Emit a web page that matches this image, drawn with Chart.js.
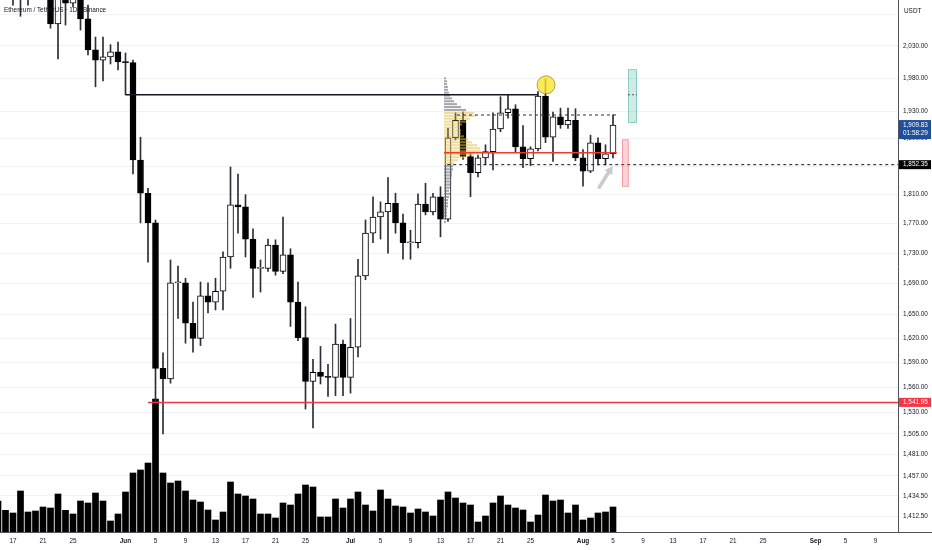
<!DOCTYPE html>
<html>
<head>
<meta charset="utf-8">
<script src="https://cdn.jsdelivr.net/npm/chart.js@4.4.1/dist/chart.umd.min.js"></script>
<style>
  html, body { margin: 0; padding: 0; background: #fff; }
  #wrap { position: relative; width: 932px; height: 550px; }
  .leyenda { position: absolute; left: 4px; top: 6px; font: 6.4px 'Liberation Sans', Arial, sans-serif; color: #131722; white-space: nowrap; }
  .unidad { position: absolute; left: 904px; top: 7px; font: 6.4px 'Liberation Sans', Arial, sans-serif; color: #131722; }
</style>
</head>
<body>
<div id="wrap">
  <canvas id="chartCanvas"></canvas>
  <div class="leyenda">Ethereum / TetherUS · 1D · Binance</div>
  <div class="unidad">USDT</div>
</div>
<script>
// Primer día visible (índice 0 del eje x)
const primerDia = '2023-05-15';

// Velas diarias (15 may - 5 ago)
const aperturas = [2140,2125,2118,2130,2110,2120,2140,2118,2065,2112,
  2098,2112,2073,2024,2008,2013,2021,2005,2004,1859,
  1812,1771,1583,1570,1691,1691,1639,1620,1674,1666,
  1680,1725,1796,1793,1749,1710,1710,1741,1706,1728,
  1666,1621,1567,1578,1573,1572,1613,1572,1609,1700,
  1757,1779,1786,1798,1771,1744,1744,1797,1786,1807,
  1776,1891,1917,1864,1841,1862,1871,1904,1928,1934,
  1878,1861,1875,1953,1892,1922,1910,1917,1862,1843,
  1884,1861,1868];
const maximos = [2160,2145,2140,2150,2135,2150,2160,2130,2130,2125,
  2125,2128,2095,2044,2044,2032,2036,2019,2008,1892,
  1819,1775,1602,1721,1713,1697,1666,1692,1691,1697,
  1732,1849,1839,1810,1763,1721,1749,1748,1779,1736,
  1692,1660,1594,1610,1588,1638,1618,1645,1722,1775,
  1807,1800,1834,1812,1783,1761,1811,1826,1812,1821,
  1905,1928,1929,1868,1866,1881,1928,1952,1955,1940,
  1909,1878,1960,1979,1929,1935,1935,1934,1874,1895,
  1891,1881,1925];
const minimos = [2110,2105,2095,2077,2095,2110,2108,2058,2010,2063,
  2092,2055,2016,1967,1976,2002,1993,1955,1839,1771,
  1718,1542,1505,1565,1645,1614,1603,1611,1652,1656,
  1656,1710,1757,1725,1672,1679,1706,1701,1703,1635,
  1617,1534,1512,1564,1549,1550,1550,1553,1597,1695,
  1744,1749,1730,1757,1722,1722,1737,1782,1782,1752,
  1773,1888,1860,1807,1835,1852,1845,1900,1920,1871,
  1848,1851,1872,1884,1857,1905,1905,1858,1822,1841,
  1852,1852,1862];
const cierres = [2125,2118,2130,2110,2120,2140,2118,2065,2112,2098,
  2112,2073,2024,2008,2013,2021,2005,2004,1859,1812,
  1771,1583,1570,1691,1692,1639,1620,1674,1666,1680,
  1725,1796,1793,1749,1710,1711,1741,1706,1728,1666,
  1621,1567,1578,1573,1572,1613,1572,1609,1700,1757,
  1779,1786,1798,1771,1744,1745,1797,1786,1807,1776,
  1891,1917,1864,1841,1862,1871,1904,1928,1934,1878,
  1861,1875,1953,1892,1922,1910,1917,1862,1843,1884,
  1861,1868,1909.83];
// Volumen diario (miles de ETH)
const volumenes = [186,130,114,246,120,126,150,144,228,130,
  108,186,174,234,186,66,108,240,354,372,
  414,798,354,294,306,246,192,180,132,72,
  120,300,228,216,198,108,108,84,174,162,
  228,282,270,90,90,198,144,198,240,162,
  126,252,198,156,150,114,138,120,96,192,
  240,204,174,162,60,96,174,216,162,144,
  132,60,102,222,186,192,114,162,72,84,
  114,120,150];

// Etiquetas de los ejes
const xTickFechas = ['05-17','05-21','05-25','06-01','06-05','06-09','06-13','06-17','06-21','06-25',
  '07-01','07-05','07-09','07-13','07-17','07-21','07-25','08-01','08-05','08-09','08-13','08-17',
  '08-21','08-25','09-01','09-05','09-09'];
const xTickEtiquetas = ['17','21','25','Jun','5','9','13','17','21','25',
  'Jul','5','9','13','17','21','25','Aug','5','9','13','17',
  '21','25','Sep','5','9'];
const meses = ['Jun','Jul','Aug','Sep'];
const yTicks = [2080, 2030, 1980, 1930, 1890, 1850, 1810, 1770, 1730, 1690, 1650, 1620,
  1590, 1560, 1530, 1505, 1481, 1457, 1434.5, 1412.5];

// Niveles dibujados
const nivelNegro = 1955;
const nivelRojo = 1541.95;
const nivelPOC = 1869.5;
const nivelVAH = 1924.7;
const nivelVAL = 1852.35;
const ultimoPrecio = 1909.83;
const cuentaAtras = '01:58:29';
const maximoMarcado = 1970;

// Perfil de volumen (de arriba a abajo)
const perfilAlto = 1982;
const perfilBajo = 1770;
const perfilVolumen = [2,3,3,4,4,5,6,8,10,13, 17,22,30,32,26,22,18,16,17,17,
  20,24,28,33,36,37,30,21,14,10, 9,9,8,8,7,7,6,6,5,6, 5,4,4,4,3,3,3,2,2];
const areaValorAlto = 1928;
const areaValorBajo = 1852.35;

// Zonas de la posición (objetivo y stop)
const zonaObjetivo = { alto: 1994, bajo: 1913 };
const zonaStop = { alto: 1889, bajo: 1821 };
const flechaPrecios = [1820.4, 1850.6];

const fuente = "'Liberation Sans', Arial, sans-serif";

function diaIndex(mmdd) {
  const base = new Date(primerDia + 'T00:00:00Z');
  const [m, d] = mmdd.split('-').map(Number);
  return Math.round((Date.UTC(base.getUTCFullYear(), m - 1, d) - base.getTime()) / 86400000);
}

function fmt(v) {
  return v.toLocaleString('en-US', { minimumFractionDigits: 2, maximumFractionDigits: 2 });
}

function linea(precio, desde, hasta, color, ancho, dash) {
  return {
    type: 'line',
    data: [{ x: desde, y: precio }, { x: hasta, y: precio }],
    borderColor: color,
    borderWidth: ancho,
    borderDash: dash || [],
    pointRadius: 0,
    yAxisID: 'y',
    order: 2
  };
}

// Posiciones (en días) de los dibujos
const iPerfil = 59.47;
const anchoPerfilDias = 4.93;
const finDibujos = 82.5;
const iObjetivo = [84, 85.2];
const iStop = [83.2, 84.1];
const iFlecha = [80.17, 81.96];

// Plugin: perfil de volumen, zonas, flecha y etiquetas de precio
const dibujos = {
  id: 'dibujos',
  afterDatasetDraw(chart, args) {
    if (args.index !== 2) return;
    const { ctx, scales: { x, y } } = chart;
    const x0 = x.getPixelForValue(iPerfil);
    const pxDia = x.getPixelForValue(1) - x.getPixelForValue(0);
    const maxV = Math.max(...perfilVolumen);
    const paso = (perfilAlto - perfilBajo) / perfilVolumen.length;
    ctx.save();
    perfilVolumen.forEach((v, k) => {
      const hi = perfilAlto - k * paso;
      const lo = hi - paso;
      const medio = (hi + lo) / 2;
      const yHi = y.getPixelForValue(hi);
      const yLo = y.getPixelForValue(lo);
      const h = yLo - yHi;
      const w = v / maxV * anchoPerfilDias * pxDia;
      const enArea = medio <= areaValorAlto && medio >= areaValorBajo;
      ctx.fillStyle = enArea ? 'rgba(226,190,70,0.55)' : 'rgba(105,108,116,0.6)';
      ctx.fillRect(x0, yHi + h * 0.15, w, h * 0.7);
    });
    ctx.restore();
  },
  afterDatasetsDraw(chart) {
    const { ctx, scales: { x, y } } = chart;
    ctx.save();
    const caja = (i, z, relleno, borde) => {
      const x1 = x.getPixelForValue(i[0]), x2 = x.getPixelForValue(i[1]);
      const y1 = y.getPixelForValue(z.alto), y2 = y.getPixelForValue(z.bajo);
      ctx.fillStyle = relleno;
      ctx.fillRect(x1, y1, x2 - x1, y2 - y1);
      ctx.strokeStyle = borde;
      ctx.lineWidth = 1;
      ctx.strokeRect(x1 + 0.5, y1 + 0.5, x2 - x1 - 1, y2 - y1 - 1);
    };
    caja(iStop, zonaStop, 'rgba(242,54,69,0.22)', 'rgba(242,54,69,0.35)');
    caja(iObjetivo, zonaObjetivo, 'rgba(8,153,129,0.2)', 'rgba(8,153,129,0.35)');
    // línea media del objetivo
    const ym = y.getPixelForValue(nivelNegro);
    ctx.strokeStyle = '#50535e';
    ctx.setLineDash([2, 2]);
    ctx.beginPath();
    ctx.moveTo(x.getPixelForValue(iObjetivo[0]), ym);
    ctx.lineTo(x.getPixelForValue(iObjetivo[1]), ym);
    ctx.stroke();
    ctx.setLineDash([]);

    // flecha gris
    const a = { x: x.getPixelForValue(iFlecha[0]), y: y.getPixelForValue(flechaPrecios[0]) };
    const b = { x: x.getPixelForValue(iFlecha[1]), y: y.getPixelForValue(flechaPrecios[1]) };
    const ang = Math.atan2(b.y - a.y, b.x - a.x);
    const cos = Math.cos(ang), sin = Math.sin(ang);
    ctx.strokeStyle = '#c9cbd1';
    ctx.fillStyle = '#c9cbd1';
    ctx.lineWidth = 3.5;
    ctx.lineCap = 'round';
    ctx.beginPath();
    ctx.moveTo(a.x, a.y);
    ctx.lineTo(b.x - 6 * cos, b.y - 6 * sin);
    ctx.stroke();
    ctx.beginPath();
    ctx.moveTo(b.x, b.y);
    ctx.lineTo(b.x - 8 * cos + 4.5 * sin, b.y - 8 * sin - 4.5 * cos);
    ctx.lineTo(b.x - 8 * cos - 4.5 * sin, b.y - 8 * sin + 4.5 * cos);
    ctx.closePath();
    ctx.fill();
    ctx.restore();
  },
  afterDraw(chart) {
    const { ctx, chartArea, scales: { y } } = chart;
    ctx.save();
    // borde inferior bajo el eje de precios
    ctx.strokeStyle = '#50535e';
    ctx.lineWidth = 1;
    ctx.beginPath();
    ctx.moveTo(chartArea.right, chartArea.bottom + 0.5);
    ctx.lineTo(chart.width, chartArea.bottom + 0.5);
    ctx.stroke();

    const etiqueta = (precio, lineas, color) => {
      const yP = y.getPixelForValue(precio);
      const x1 = chartArea.right + 1;
      const alto = lineas.length > 1 ? 19 : 9;
      const top = lineas.length > 1 ? yP - 5 : yP - 4.5;
      ctx.fillStyle = color;
      ctx.fillRect(x1, top, chart.width - x1 - 1, alto);
      ctx.fillStyle = '#fff';
      ctx.font = '6.4px ' + fuente;
      ctx.textBaseline = 'middle';
      ctx.textAlign = 'left';
      lineas.forEach((t, k) => ctx.fillText(t, x1 + 4, yP + k * 8.6));
    };
    etiqueta(ultimoPrecio, [fmt(ultimoPrecio), cuentaAtras], '#1f4e9c');
    etiqueta(nivelVAL, [fmt(nivelVAL)], '#000');
    etiqueta(nivelRojo, [fmt(nivelRojo)], '#f23645');
    ctx.restore();
  }
};

const velasIdx = aperturas.map((o, i) => i);

const ctx = document.getElementById('chartCanvas').getContext('2d');
const chart = new Chart(ctx, {
  type: 'bar',
  data: {
    datasets: [
      {
        // volumen
        type: 'bar',
        yAxisID: 'yv',
        data: volumenes.map((v, i) => ({ x: i, y: v })),
        backgroundColor: '#000',
        barThickness: 6,
        grouped: false,
        order: 10
      },
      {
        // mechas
        type: 'bar',
        yAxisID: 'y',
        data: velasIdx.map(i => ({ x: i, y: [minimos[i], maximos[i]] })),
        backgroundColor: '#2a2e39',
        barThickness: 1,
        grouped: false,
        order: 9
      },
      {
        // cuerpos
        type: 'bar',
        yAxisID: 'y',
        data: velasIdx.map(i => ({ x: i, y: [Math.min(aperturas[i], cierres[i]), Math.max(aperturas[i], cierres[i])] })),
        backgroundColor: velasIdx.map(i => cierres[i] >= aperturas[i] ? '#fff' : '#000'),
        borderColor: '#000',
        borderWidth: 1,
        borderSkipped: false,
        barThickness: 6,
        minBarLength: 1,
        grouped: false,
        order: 8
      },
      linea(nivelNegro, diaIndex('06-01'), diaIndex('07-26'), '#131722', 1.3),
      linea(nivelRojo, diaIndex('06-04'), 121, '#f23645', 1.5),
      linea(nivelPOC, iPerfil, finDibujos, '#ef3b2c', 1.5),
      linea(nivelVAH, 61.2, finDibujos, '#2a2e39', 1, [3, 3]),
      linea(nivelVAL, 59.9, 121, '#131722', 1, [3, 3]),
      {
        // máximo marcado
        type: 'bubble',
        yAxisID: 'y',
        data: [{ x: diaIndex('07-27') + 0.07, y: maximoMarcado, r: 9 }],
        backgroundColor: 'rgba(250,228,45,0.8)',
        borderColor: 'rgba(160,145,40,0.8)',
        borderWidth: 1,
        order: 1
      }
    ]
  },
  options: {
    responsive: true,
    maintainAspectRatio: false,
    animation: false,
    events: [],
    layout: { padding: 0, autoPadding: false },
    plugins: { legend: { display: false }, tooltip: { enabled: false } },
    scales: {
      x: {
        type: 'linear',
        offset: false,
        min: 0.267,
        max: 120,
        grid: { display: false, drawTicks: false, offset: false },
        border: { display: true, color: '#50535e' },
        afterBuildTicks: (s) => { s.ticks = xTickFechas.map(f => ({ value: diaIndex(f) })); },
        afterFit: (s) => { s.height = 18; s.paddingLeft = 0; s.paddingRight = 0; },
        ticks: {
          autoSkip: false,
          maxRotation: 0,
          padding: 5,
          color: '#131722',
          font: (c) => ({ family: fuente, size: 6.4, weight: (c.tick && meses.includes(c.tick.label)) ? 'bold' : 'normal' }),
          callback: (v, i) => xTickEtiquetas[i]
        }
      },
      y: {
        type: 'logarithmic',
        position: 'right',
        min: 1395.2,
        max: 2103.3,
        grid: { color: '#f0f2f5', drawTicks: false },
        border: { display: true, color: '#50535e' },
        afterBuildTicks: (s) => { s.ticks = yTicks.map(v => ({ value: v })); },
        afterFit: (s) => { s.width = 34; s.paddingTop = 0; s.paddingBottom = 0; },
        ticks: {
          autoSkip: false,
          padding: 5,
          color: '#131722',
          font: { family: fuente, size: 6.4 },
          callback: (v) => v === 2080 ? '' : fmt(v)
        }
      },
      yv: {
        type: 'linear',
        display: false,
        min: 0,
        max: 3192
      }
    }
  },
  plugins: [dibujos]
});
</script>
</body>
</html>
